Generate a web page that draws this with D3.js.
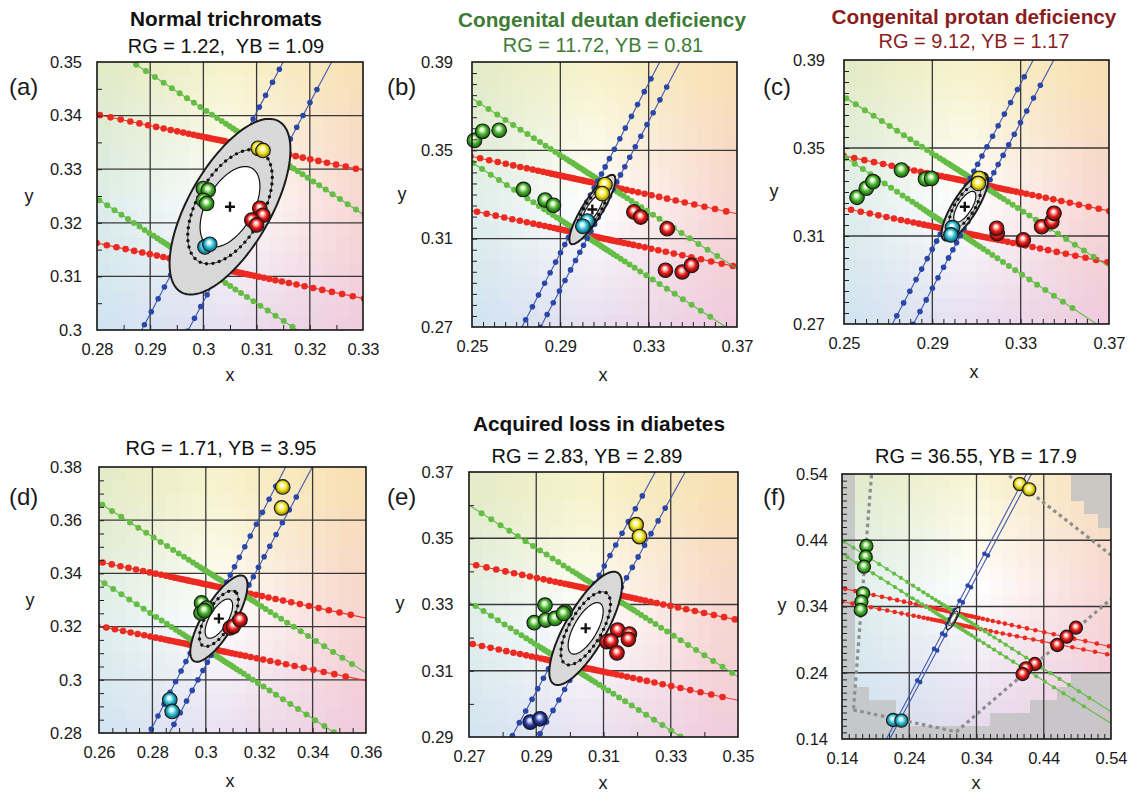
<!DOCTYPE html>
<html><head><meta charset="utf-8">
<script src="https://cdn.jsdelivr.net/npm/d3@7"></script>
<style>
body{margin:0;background:#fff}
svg text{font-family:"Liberation Sans",Arial,Helvetica,sans-serif}
</style>
</head><body>
<svg id="chart" width="1133" height="792"></svg>
<script>
// ---------------- DATA ----------------
const panelIds = ['a','b','c','d','e','f'];
const titles = ["Normal trichromats","Congenital deutan deficiency","Congenital protan deficiency","","Acquired loss in diabetes",""];
const scoreLines = ["RG = 1.22,  YB = 1.09","RG = 11.72, YB = 0.81","RG = 9.12, YB = 1.17","RG = 1.71, YB = 3.95","RG = 2.83, YB = 2.89","RG = 36.55, YB = 17.9"];
const xDomains = [[0.28,0.33],[0.25,0.37],[0.25,0.37],[0.26,0.36],[0.27,0.35],[0.14,0.54]];
const yDomains = [[0.30,0.35],[0.27,0.39],[0.27,0.39],[0.28,0.38],[0.29,0.37],[0.14,0.54]];
const xTickLabels = [[0.28,0.29,0.3,0.31,0.32,0.33],[0.25,0.29,0.33,0.37],[0.25,0.29,0.33,0.37],[0.26,0.28,0.3,0.32,0.34,0.36],[0.27,0.29,0.31,0.33,0.35],[0.14,0.24,0.34,0.44,0.54]];
const yTickLabels = [[0.3,0.31,0.32,0.33,0.34,0.35],[0.27,0.31,0.35,0.39],[0.27,0.31,0.35,0.39],[0.28,0.3,0.32,0.34,0.36,0.38],[0.29,0.31,0.33,0.35,0.37],[0.14,0.24,0.34,0.44,0.54]];
const minorSteps = [0.005,0.005,0.005,0.005,0.01,0.01];

// confusion lines: [x1, y1, x2, y2, x of densest stimulus (null = nearest the centre)]
const redLines = [
  [[0.28,0.3402,0.33,0.3298,0.3056],[0.28,0.3162,0.33,0.3059,0.303]],
  [[0.25,0.3472,0.37,0.3213,0.300],[0.25,0.3227,0.37,0.2972,0.303]],
  [[0.25,0.3464,0.37,0.3214,0.310],[0.25,0.3226,0.37,0.2979,0.304]],
  [[0.26,0.3444,0.36,0.3232,0.300],[0.26,0.3202,0.36,0.2997,0.298]],
  [[0.27,0.3423,0.35,0.3253,0.309],[0.27,0.3183,0.35,0.3011,0.302]],
  [[0.14,0.3677,0.54,0.2793,null],[0.14,0.3475,0.54,0.2668,null]]
];
const greenLines = [
  [[0.2866,0.35,0.33,0.3216,0.3106],[0.28,0.3245,0.3172,0.3003,0.297]],
  [[0.25,0.3735,0.37,0.2964,0.305],[0.25,0.3445,0.3622,0.2718,0.302]],
  [[0.25,0.3733,0.37,0.2961,0.307],[0.25,0.3461,0.3621,0.2715,0.298]],
  [[0.26,0.3666,0.36,0.3026,0.308],[0.26,0.3376,0.3479,0.2803,0.3015]],
  [[0.27,0.36,0.35,0.3082,0.311],[0.27,0.3308,0.3323,0.2905,0.2985]],
  [[0.14,0.4397,0.54,0.1812,null],[0.14,0.4196,0.54,0.1636,null]]
];
const blueLines = [
  [[0.2884,0.30,0.315,0.35,null],[0.2978,0.3012,0.3241,0.35,null]],
  [[0.273,0.2708,0.335,0.39,null],[0.282,0.2718,0.3441,0.39,null]],
  [[0.2719,0.27,0.3357,0.39,null],[0.282,0.2711,0.345,0.39,null]],
  [[0.279,0.2803,0.3297,0.3796,null],[0.2865,0.2803,0.3397,0.3796,null]],
  [[0.2832,0.291,0.3254,0.37,null],[0.2906,0.29,0.3343,0.37,null]],
  [[0.206,0.14,0.4144,0.54,null],[0.211,0.14,0.4219,0.54,null]]
];
// stimulus displacements along the lines, as fractions of the panel's x range
const stepsRG = [0.005,0.015,0.025,0.035,0.045,0.055,0.065,0.075,0.085,0.095,0.107,0.12,0.135,0.152,0.171,0.192,0.215,0.24,0.267,0.296,0.327,0.36,0.395,0.432,0.471,0.512,0.555];
const stepsBlue = [0.015,0.045,0.075,0.105,0.135,0.165,0.2,0.24,0.285,0.33,0.38,0.43,0.485,0.54];
const stepsRGSevere = [0.004,0.012,0.02,0.028,0.036,0.045,0.055,0.066,0.078,0.092,0.108,0.126,0.146,0.168,0.192,0.218,0.246,0.276,0.308,0.342,0.378,0.416,0.456,0.498,0.542,0.588];
const stepsBlueSevere = [0.008,0.03,0.07,0.135,0.27];

// normal ellipse: [cx, cy, angle (deg), semi-major, semi-minor]
const ellipses = [
  [0.305,0.323,60,0.0184,0.0077],
  [0.3045,0.3232,58,0.0183,0.0045],
  [0.3047,0.3233,58,0.0178,0.0055],
  [0.3049,0.323,59.5,0.0185,0.006],
  [0.3047,0.3228,60.8,0.0193,0.0061],
  [0.3053,0.3221,62,0.019,0.005]
];

// thresholds (coloured spheres): [colour, x, y]
const ballsA = [['green',0.3,0.3264],['green',0.3009,0.3261],['green',0.3,0.3242],['green',0.3006,0.3236],
  ['yellow',0.3103,0.3339],['yellow',0.3112,0.3335],
  ['red',0.3106,0.3227],['red',0.3112,0.3214],['red',0.3091,0.3205],['red',0.31,0.3196],
  ['cyan',0.3003,0.3155],['cyan',0.3012,0.316]];
const ballsB = [['green',0.2511,0.3545],['green',0.2548,0.3586],['green',0.2623,0.3591],['green',0.2733,0.3323],['green',0.2831,0.3275],['green',0.2869,0.3251],
  ['yellow',0.3102,0.3345],['yellow',0.309,0.3304],['cyan',0.3022,0.318],['cyan',0.3002,0.3156],
  ['red',0.3233,0.3221],['red',0.3264,0.3198],['red',0.3384,0.3145],['red',0.3376,0.2957],['red',0.3452,0.2949],['red',0.3494,0.2979]];
const ballsC = [['green',0.2559,0.3276],['green',0.2601,0.3317],['green',0.2631,0.3347],['green',0.276,0.34],['green',0.2869,0.3359],['green',0.2896,0.3362],
  ['yellow',0.3112,0.3362],['yellow',0.3108,0.3339],['cyan',0.2991,0.3138],['cyan',0.2984,0.3105],
  ['red',0.3194,0.3112],['red',0.3191,0.3135],['red',0.3312,0.3082],['red',0.3395,0.3142],['red',0.3441,0.3165],['red',0.3451,0.3203]];
const ballsD = [['yellow',0.3288,0.3725],['yellow',0.3284,0.3646],
  ['green',0.2984,0.3289],['green',0.3003,0.327],['green',0.2982,0.3251],['green',0.2995,0.326],
  ['red',0.3091,0.3195],['red',0.3103,0.3201],['red',0.3128,0.3226],['cyan',0.2865,0.2925],['cyan',0.2874,0.2881]];
const ballsE = [['yellow',0.3197,0.3541],['yellow',0.3207,0.3505],
  ['green',0.2926,0.3298],['green',0.2986,0.3278],['green',0.2894,0.3245],['green',0.2928,0.3253],['green',0.2956,0.3258],['green',0.2981,0.3273],
  ['red',0.3142,0.3223],['red',0.3177,0.3211],['red',0.3174,0.3195],['red',0.311,0.3188],['red',0.3122,0.319],['red',0.314,0.3154],
  ['blue',0.2882,0.2945],['blue',0.2911,0.2955]];
const ballsF = [['yellow',0.4045,0.5248],['yellow',0.4184,0.5168],
  ['green',0.1762,0.4313],['green',0.1752,0.4151],['green',0.1727,0.4001],['green',0.1713,0.3598],['green',0.1688,0.3472],['green',0.1678,0.3347],
  ['red',0.4879,0.308],['red',0.474,0.2944],['red',0.4601,0.2819],['red',0.4268,0.2532],['red',0.4134,0.2466],['red',0.4085,0.2381],
  ['cyan',0.2159,0.1687],['cyan',0.2283,0.1677]];
const ballSets = [ballsA,ballsB,ballsC,ballsD,ballsE,ballsF];

// background chromaticity tint (3x3 control colours, top row first) and its white point per panel
const bgGrid = [
  ['#e1eac6','#f7f3cc','#f8e0b4'],
  ['#dbece8','#ffffff','#f7d6d2'],
  ['#cde4f3','#e6ddef','#f0cadf']
];
const bgCenters = [[0.305,0.324],[0.305,0.326],[0.305,0.326],[0.305,0.324],[0.305,0.324],[0.34,0.37]];
// panel (f): region shown in colour (outside is grey) and the dotted gamut boundary
const fColourRegion = [[0.155,0.6],[0.155,0.22],[0.21,0.2],[0.26,0.16],[0.34,0.16],[0.44,0.2],[0.5,0.24],[0.6,0.26],[0.6,0.42],[0.5,0.48],[0.43,0.6]];
const fGamut = [[0.157,0.184],[0.31,0.151],[0.58,0.386],[0.36,0.56],[0.19,0.62]];

// ---------------- STYLE / LAYOUT ----------------
const layout = [
  {l:97,t:62,r:363,b:330, tx:226,ty:26,tw:192,stx:226,sy:53, px:9,py:95, xx:230,xy:381, yx:29,yy:202, ypad:15, tcol:'#111'},
  {l:472,t:62,r:737,b:327, tx:602,ty:27,tw:288,stx:603,sy:52, px:387,py:95, xx:603,xy:381, yx:402,yy:200, ypad:19, tcol:'#3d7b36'},
  {l:844,t:60,r:1109,b:324, tx:974,ty:24,tw:285,stx:974,sy:48, px:763,py:95, xx:974,xy:378, yx:774,yy:197, ypad:19, tcol:'#8a1d1d'},
  {l:99,t:467,r:366,b:733, tx:221,ty:0,tw:0,stx:221,sy:455, px:9,py:505, xx:230,xy:787, yx:30,yy:606, ypad:17, tcol:'#111'},
  {l:469,t:472,r:738,b:737, tx:599,ty:431,tw:252,stx:587,sy:463, px:387,py:505, xx:603,xy:789, yx:400,yy:609, ypad:15.5, tcol:'#111'},
  {l:842,t:474,r:1111,b:739, tx:976,ty:0,tw:0,stx:976,sy:463, px:763,py:505, xx:976,xy:789, yx:782,yy:611, ypad:14, tcol:'#111'}
];
const ballStyle = {yellow:['#fffbd8','#efe21e','#6e6000'], green:['#e2fbd2','#46b02c','#124a0a'], red:['#ffd6cc','#e21a1a','#560000'],
  cyan:['#dcfbff','#2bbad0','#05475a'], blue:['#c8d0ff','#2b3b9e','#070b3c']};

const svg = d3.select('#chart');
const defs = svg.append('defs');
Object.entries(ballStyle).forEach(([k,c]) => {
  const g = defs.append('radialGradient').attr('id','ball-'+k)
    .attr('cx','50%').attr('cy','50%').attr('r','55%').attr('fx','45%').attr('fy','35%');
  g.append('stop').attr('offset','0%').attr('stop-color','#ffffff');
  g.append('stop').attr('offset','20%').attr('stop-color',c[0]);
  g.append('stop').attr('offset','55%').attr('stop-color',c[1]);
  g.append('stop').attr('offset','100%').attr('stop-color',c[2]);
});

function bgColor(du, dv) {
  const gx = Math.max(0, Math.min(2, du + 1));
  const gy = Math.max(0, Math.min(2, 1 - dv));
  const i0 = Math.min(1, Math.floor(gx)), j0 = Math.min(1, Math.floor(gy));
  const fx = gx - i0, fy = gy - j0;
  const top = d3.interpolateRgb(bgGrid[j0][i0], bgGrid[j0][i0+1])(fx);
  const bot = d3.interpolateRgb(bgGrid[j0+1][i0], bgGrid[j0+1][i0+1])(fx);
  return d3.interpolateRgb(top, bot)(fy);
}

panelIds.forEach((id, i) => {
  const L = layout[i];
  const [xd0, xd1] = xDomains[i], [yd0, yd1] = yDomains[i];
  const W = xd1 - xd0, H = yd1 - yd0;
  const x = d3.scaleLinear().domain(xDomains[i]).range([L.l, L.r]);
  const y = d3.scaleLinear().domain(yDomains[i]).range([L.b, L.t]);
  const severe = (i === 5);
  const clipId = 'clip-' + id;
  defs.append('clipPath').attr('id', clipId).append('rect')
    .attr('x', L.l).attr('y', L.t).attr('width', L.r - L.l).attr('height', L.b - L.t);
  const root = svg.append('g');
  const plot = root.append('g').attr('clip-path', `url(#${clipId})`);

  // background tint cells
  const n = 20, cw = W / n, ch = H / n;
  const cells = [];
  for (let ci = 0; ci < n; ci++) for (let cj = 0; cj < n; cj++)
    cells.push({x0: xd0 + ci * cw, y0: yd0 + cj * ch});
  const [wx, wy] = bgCenters[i];
  plot.append('g').selectAll('rect').data(cells).join('rect')
    .attr('x', d => x(d.x0)).attr('y', d => y(d.y0 + ch))
    .attr('width', d => x(d.x0 + cw) - x(d.x0) + 0.7)
    .attr('height', d => y(d.y0) - y(d.y0 + ch) + 0.7)
    .attr('shape-rendering','crispEdges')
    .attr('fill', d => {
      const cx = d.x0 + cw/2, cy = d.y0 + ch/2;
      let c = bgColor((cx - wx) / (W/2), (cy - wy) / (H/2));
      if (severe && !d3.polygonContains(fColourRegion, [cx, cy])) c = d3.interpolateRgb(c, '#c3c3c3')(0.85);
      return c;
    });

  // grid lines (at labelled ticks)
  const gx = xTickLabels[i].slice(1, -1), gy = yTickLabels[i].slice(1, -1);
  plot.append('g').selectAll('line.gx').data(gx).join('line')
    .attr('x1', d => x(d)).attr('x2', d => x(d)).attr('y1', L.t).attr('y2', L.b)
    .attr('stroke','#383838').attr('stroke-width',1.3);
  plot.append('g').selectAll('line.gy').data(gy).join('line')
    .attr('y1', d => y(d)).attr('y2', d => y(d)).attr('x1', L.l).attr('x2', L.r)
    .attr('stroke','#383838').attr('stroke-width',1.3);

  if (severe) {
    plot.append('path').attr('d', d3.line().x(d => x(d[0])).y(d => y(d[1]))(fGamut) + 'Z')
      .attr('fill','none').attr('stroke','#8d8d8d').attr('stroke-width',3.2).attr('stroke-dasharray','3.5,3.5');
  }

  const [ecx, ecy, eang, ea, eb] = ellipses[i];
  function geom(def) {
    const [x1, y1, x2, y2, ax] = def;
    const len = Math.hypot(x2 - x1, y2 - y1);
    const ux = (x2 - x1) / len, uy = (y2 - y1) / len;
    let a;
    if (ax != null) a = [ax, y1 + (ax - x1) * (y2 - y1) / (x2 - x1)];
    else { const t = (ecx - x1) * ux + (ecy - y1) * uy; a = [x1 + t * ux, y1 + t * uy]; }
    return {x1, y1, ux, uy, a};
  }
  function drawFamily(lines, steps, lineCol, dotCol, r) {
    const grp = plot.append('g');
    lines.forEach(def => {
      const gm = geom(def);
      grp.append('line')
        .attr('x1', x(gm.x1 - gm.ux)).attr('y1', y(gm.y1 - gm.uy))
        .attr('x2', x(gm.x1 + gm.ux)).attr('y2', y(gm.y1 + gm.uy))
        .attr('stroke', lineCol).attr('stroke-width', 1.1);
      const pts = [];
      steps.forEach(s => [-1, 1].forEach(sg => {
        const px = gm.a[0] + sg * s * W * gm.ux, py = gm.a[1] + sg * s * W * gm.uy;
        if (px > xd0 - 0.01 * W && px < xd1 + 0.01 * W && py > yd0 - 0.01 * H && py < yd1 + 0.01 * H) pts.push([px, py]);
      }));
      grp.append('g').selectAll('circle').data(pts).join('circle')
        .attr('cx', d => x(d[0])).attr('cy', d => y(d[1])).attr('r', r).attr('fill', dotCol);
    });
  }
  drawFamily(redLines[i], severe ? stepsRGSevere : stepsRG, '#e8382c', '#ec2a22', severe ? 2.3 : 3.3);
  drawFamily(greenLines[i], severe ? stepsRGSevere : stepsRG, '#5fb84a', '#66bd45', severe ? 2.1 : 3.0);
  drawFamily(blueLines[i], severe ? stepsBlueSevere : stepsBlue, '#4257aa', '#2a47a8', severe ? 2.3 : 2.8);

  // normal-population ellipse
  const th = eang * Math.PI / 180;
  const ellPath = (sa, sb) => d3.line()(d3.range(0, 360, 3).map(deg => {
    const t = deg * Math.PI / 180;
    const px = ea * sa * Math.cos(t), py = eb * sb * Math.sin(t);
    return [x(ecx + px * Math.cos(th) - py * Math.sin(th)), y(ecy + px * Math.sin(th) + py * Math.cos(th))];
  })) + 'Z';
  const eg = root.append('g');
  eg.append('path').attr('d', ellPath(1, 1)).attr('fill','#d8d8d8').attr('stroke','#1c1c1c').attr('stroke-width', severe ? 1.2 : 2);
  eg.append('path').attr('d', ellPath(0.64, 0.8)).attr('fill','none').attr('stroke','#111').attr('stroke-width',0.8);
  eg.append('path').attr('d', ellPath(0.64, 0.8)).attr('fill','none').attr('stroke','#111')
    .attr('stroke-width', severe ? 1.0 : 3.4).attr('stroke-linecap','round').attr('stroke-dasharray', severe ? '0,2.5' : '0,6.5');
  eg.append('path').attr('d', ellPath(0.45, 0.57)).attr('fill','#ffffff').attr('stroke','#111').attr('stroke-width', severe ? 0.8 : 1.2);

  // threshold spheres
  root.append('g').selectAll('circle').data(ballSets[i]).join('circle')
    .attr('cx', d => x(d[1])).attr('cy', d => y(d[2])).attr('r', severe ? 6.6 : 7.3)
    .attr('fill', d => `url(#ball-${d[0]})`).attr('stroke','#1a1a1a').attr('stroke-width',1.1);

  // centre cross
  const pc = [x(ecx), y(ecy)], ps = severe ? 0 : 5;
  if (ps) {
    root.append('path').attr('d', `M${pc[0]-ps},${pc[1]}H${pc[0]+ps}M${pc[0]},${pc[1]-ps}V${pc[1]+ps}`)
      .attr('stroke','#111').attr('stroke-width',2.4);
  }

  // frame
  root.append('rect').attr('x', L.l).attr('y', L.t).attr('width', L.r - L.l).attr('height', L.b - L.t)
    .attr('fill','none').attr('stroke','#151515').attr('stroke-width',1.6);

  // minor ticks (inside)
  const nx = Math.round(W / minorSteps[i]), ny = Math.round(H / minorSteps[i]);
  const mx = d3.range(1, nx).map(k => xd0 + k * minorSteps[i]);
  const my = d3.range(1, ny).map(k => yd0 + k * minorSteps[i]);
  const axB = root.append('g').attr('transform', `translate(0,${L.b})`)
    .call(d3.axisBottom(x).tickValues(mx).tickSize(-5).tickFormat(''));
  const axL = root.append('g').attr('transform', `translate(${L.l},0)`)
    .call(d3.axisLeft(y).tickValues(my).tickSize(-5).tickFormat(''));
  [axB, axL].forEach(a => { a.select('.domain').remove(); a.selectAll('line').attr('stroke','#222').attr('stroke-width',1); });

  // tick labels
  const lb = root.append('g').attr('transform', `translate(0,${L.b})`)
    .call(d3.axisBottom(x).tickValues(xTickLabels[i]).tickSize(0).tickPadding(13.5).tickFormat(d => String(d)));
  const ll = root.append('g').attr('transform', `translate(${L.l},0)`)
    .call(d3.axisLeft(y).tickValues(yTickLabels[i]).tickSize(0).tickPadding(L.ypad).tickFormat(d => String(d)));
  [lb, ll].forEach(a => {
    a.select('.domain').remove();
    a.attr('font-family', '"Liberation Sans",Arial,sans-serif').attr('font-size', 16.5);
    a.selectAll('text').attr('fill','#1a1a1a');
  });

  // axis titles
  root.append('text').attr('x', L.xx).attr('y', L.xy).attr('text-anchor','middle').attr('font-size',18).attr('fill','#1a1a1a').text('x');
  root.append('text').attr('x', L.yx).attr('y', L.yy).attr('text-anchor','middle').attr('font-size',18).attr('fill','#1a1a1a').text('y');

  // panel letter
  root.append('text').attr('x', L.px).attr('y', L.py).attr('font-size',24).attr('fill','#1a1a1a').text(`(${id})`);

  // titles (font size fitted to the reference title width)
  if (titles[i]) {
    const tt = root.append('text').attr('x', L.tx).attr('y', L.ty).attr('text-anchor','middle')
      .attr('font-size',21).attr('font-weight','bold').attr('fill', L.tcol).text(titles[i]);
    const w0 = tt.node().getComputedTextLength();
    if (w0 > 0) tt.attr('font-size', Math.min(24, 21 * L.tw / w0));
  }
  root.append('text').attr('x', L.stx).attr('y', L.sy).attr('text-anchor','middle')
    .attr('font-size',20).attr('fill', L.tcol).attr('xml:space','preserve').style('white-space','pre').text(scoreLines[i]);
});
</script>
</body></html>
